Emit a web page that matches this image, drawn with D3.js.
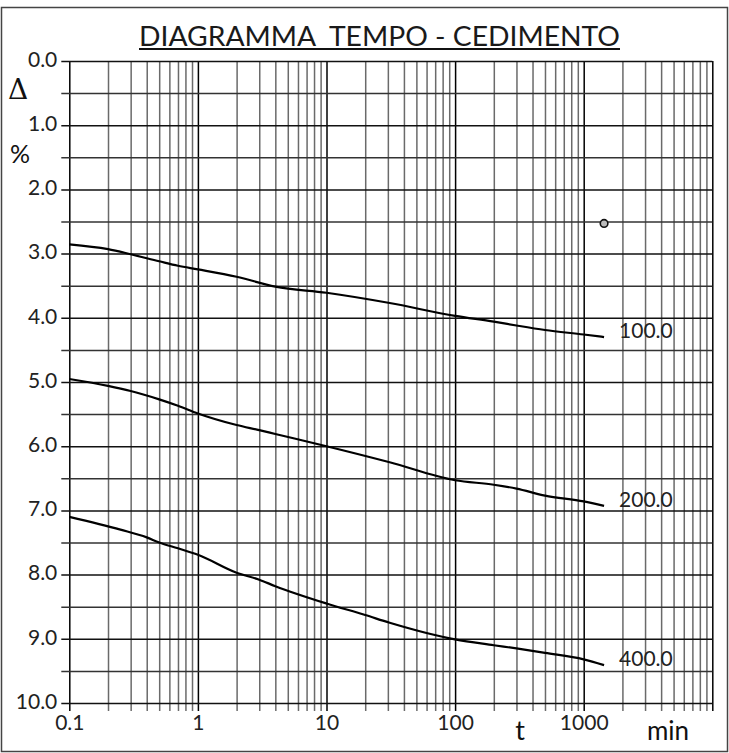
<!DOCTYPE html>
<html>
<head>
<meta charset="utf-8">
<script src="https://cdn.jsdelivr.net/npm/d3@7"></script>
<style>
  html, body { margin: 0; padding: 0; background: #fff; }
  svg { display: block; }
  svg text { font-family: Lato, "Noto Sans", sans-serif; font-weight: 400; }
</style>
</head>
<body>
<svg id="chart" width="729" height="753"></svg>
<script>
// ---- data ----
const titleText = "DIAGRAMMA  TEMPO - CEDIMENTO";
const xTickValues = [0.1, 1, 10, 100, 1000];
const yTickValues = [0, 0.5, 1, 1.5, 2, 2.5, 3, 3.5, 4, 4.5, 5, 5.5, 6, 6.5, 7, 7.5, 8, 8.5, 9, 9.5, 10];
const loadLabels = ["100.0", "200.0", "400.0"];
const times100 = [0.1, 0.2, 0.3, 0.5, 0.7, 1, 2, 4, 10, 31, 100, 200, 300, 500, 1000, 1440];
const settle100 = [2.855, 2.93, 3.01, 3.12, 3.19, 3.245, 3.36, 3.515, 3.61, 3.77, 3.97, 4.06, 4.12, 4.19, 4.26, 4.30];
const times200 = [0.1, 0.2, 0.3, 0.5, 0.7, 1, 2, 3, 4, 10, 31, 100, 200, 300, 500, 1000, 1440];
const settle200 = [4.953, 5.06, 5.14, 5.27, 5.37, 5.49, 5.67, 5.75, 5.81, 6.0, 6.25, 6.53, 6.60, 6.66, 6.77, 6.86, 6.93];
const times400 = [0.1, 0.25, 0.4, 0.5, 0.7, 1, 2, 3, 4, 10, 20, 31, 100, 200, 300, 500, 1000, 1440];
const settle400 = [7.10, 7.30, 7.42, 7.50, 7.59, 7.69, 7.97, 8.08, 8.18, 8.45, 8.63, 8.75, 9.01, 9.10, 9.15, 9.22, 9.32, 9.41];
const markerPoint = [1440, 2.53];

// ---- layout ----
const svg = d3.select("#chart");
const L = 69.3, R = 712.3, T = 61, B = 703;
const x = d3.scaleLog().domain([0.1, 10000]).range([L, R]);
const y = d3.scaleLinear().domain([0, 10]).range([T, B]);

// outer frame
svg.append("rect").attr("x", 1.5).attr("y", 7.5).attr("width", 726).attr("height", 744)
  .attr("fill", "none").attr("stroke", "#444").attr("stroke-width", 1.5);

// vertical grid values
const vGrid = [];
[0.1, 1, 10, 100, 1000].forEach(d => { for (let k = 1; k <= 9; k++) vGrid.push(+(d * k).toPrecision(3)); });
vGrid.push(10000);
const isDecade = v => Math.abs(Math.log10(v) - Math.round(Math.log10(v))) < 1e-9;

// x axis (grid + ticks)
const xAxis = d3.axisBottom(x).tickValues(vGrid).tickSizeInner(-(B - T + 8)).tickSizeOuter(0)
  .tickPadding(5)
  .tickFormat(v => xTickValues.some(t => Math.abs(t - v) < 1e-9) ? (v < 1 ? "0.1" : String(v)) : "");
const gx = svg.append("g").attr("transform", `translate(0,${B + 8})`).call(xAxis);
gx.select(".domain").remove();
gx.selectAll(".tick line")
  .attr("stroke", v => isDecade(v) ? "#000" : "#6a6a6a")
  .attr("stroke-width", 1.5);
gx.selectAll(".tick text").attr("font-size", 21).attr("fill", "#222").attr("dy", "0.72em")
  .attr("y", 4);

// y axis (grid + ticks)
const yAxis = d3.axisLeft(y).tickValues(yTickValues).tickSizeInner(-(R - L + 8)).tickSizeOuter(0)
  .tickPadding(4)
  .tickFormat(v => Number.isInteger(v) ? d3.format(".1f")(v) : "");
const gy = svg.append("g").attr("transform", `translate(${L - 8},0)`).call(yAxis);
gy.select(".domain").remove();
gy.selectAll(".tick line")
  .attr("stroke", v => Number.isInteger(v) ? "#111" : "#333")
  .attr("stroke-width", 1.5);
gy.selectAll(".tick text").attr("font-size", 21).attr("fill", "#222").attr("dy", "0.25em");

// curves
const line = d3.line().x(d => x(d[0])).y(d => y(d[1])).curve(d3.curveMonotoneX);
const series = [
  [times100, settle100],
  [times200, settle200],
  [times400, settle400]
];
series.forEach((s, i) => {
  const pts = s[0].map((t, j) => [t, s[1][j]]);
  svg.append("path").datum(pts).attr("d", line)
    .attr("fill", "none").attr("stroke", "#000").attr("stroke-width", 2.2);
  const last = pts[pts.length - 1];
  svg.append("text").attr("x", x(last[0]) + 15).attr("y", y(last[1]) + 1)
    .attr("font-size", 21).attr("fill", "#222").text(loadLabels[i]);
});

// marker circle
svg.append("circle").attr("cx", x(markerPoint[0])).attr("cy", y(markerPoint[1])).attr("r", 3.8)
  .attr("fill", "#bbb").attr("stroke", "#111").attr("stroke-width", 1.6);

// title
svg.append("text").attr("x", 139).attr("y", 46).attr("font-size", 26).attr("fill", "#1a1a1a")
  .attr("textLength", 481).attr("lengthAdjust", "spacingAndGlyphs")
  .style("white-space", "pre").text(titleText);
svg.append("line").attr("x1", 139).attr("x2", 620).attr("y1", 49).attr("y2", 49)
  .attr("stroke", "#111").attr("stroke-width", 2);

// axis symbols
svg.append("text").attr("x", 8).attr("y", 99).attr("font-size", 28)
  .style("font-family", "'DejaVu Serif', serif").attr("fill", "#111").text("Δ");
svg.append("text").attr("x", 10).attr("y", 163).attr("font-size", 25).attr("fill", "#111").text("%");
svg.append("text").attr("x", 520).attr("y", 740).attr("font-size", 27).attr("fill", "#111")
  .attr("text-anchor", "middle").text("t");
svg.append("text").attr("x", 668).attr("y", 740).attr("font-size", 26).attr("fill", "#111")
  .attr("text-anchor", "middle").text("min");
</script>
</body>
</html>
